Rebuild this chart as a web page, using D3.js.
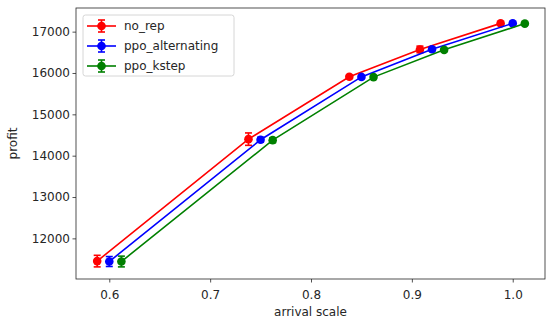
<!DOCTYPE html>
<html>
<head>
<meta charset="utf-8">
<script src="https://cdn.jsdelivr.net/npm/d3@7"></script>
<style>
  body { margin: 0; background: #fff; }
  text { font-family: "DejaVu Sans", sans-serif; fill: #262626; }
</style>
</head>
<body>
<div id="chart"></div>
<script>
/* --- データ --- */
const seriesNames = ["no_rep", "ppo_alternating", "ppo_kstep"];
const seriesColors = ["#ff0000", "#0000ff", "#008000"];

const xNoRep = [0.588, 0.738, 0.838, 0.908, 0.988];
const xAlternating = [0.600, 0.750, 0.850, 0.920, 1.000];
const xKstep = [0.612, 0.762, 0.862, 0.932, 1.012];

const yNoRep = [11450, 14400, 15910, 16570, 17200];
const yAlternating = [11440, 14385, 15905, 16575, 17200];
const yKstep = [11440, 14375, 15900, 16560, 17195];

const errNoRep = [140, 150, 40, 80, 30];
const errAlternating = [120, 60, 40, 40, 30];
const errKstep = [130, 60, 40, 40, 30];

const xTicks = [0.6, 0.7, 0.8, 0.9, 1.0];
const yTicks = [12000, 13000, 14000, 15000, 16000, 17000];

/* --- レイアウト --- */
const width = 550, height = 324;
const margin = {top: 8, right: 5, bottom: 45, left: 76};

const svg = d3.select("#chart").append("svg")
    .attr("width", width)
    .attr("height", height);

const xScale = d3.scaleLinear().domain([0.567, 1.032]).range([margin.left, width - margin.right]);
const yScale = d3.scaleLinear().domain([11017, 17572]).range([height - margin.bottom, margin.top]);

const series = [
    {name: seriesNames[0], color: seriesColors[0], x: xNoRep, y: yNoRep, e: errNoRep},
    {name: seriesNames[1], color: seriesColors[1], x: xAlternating, y: yAlternating, e: errAlternating},
    {name: seriesNames[2], color: seriesColors[2], x: xKstep, y: yKstep, e: errKstep}
];

/* --- 軸 --- */
const xAxis = svg.append("g")
    .attr("transform", "translate(0," + (height - margin.bottom) + ")")
    .call(d3.axisBottom(xScale).tickValues(xTicks).tickFormat(d3.format(".1f")).tickSize(3.5).tickSizeOuter(0));

const yAxis = svg.append("g")
    .attr("transform", "translate(" + margin.left + ",0)")
    .call(d3.axisLeft(yScale).tickValues(yTicks).tickFormat(d3.format("d")).tickSize(3.5).tickSizeOuter(0));

[xAxis, yAxis].forEach(function(ax) {
    ax.select(".domain").remove();
    ax.selectAll(".tick line").attr("stroke", "#262626").attr("stroke-width", 0.8);
    ax.selectAll(".tick text").style("font-size", "12px").style("font-family", "DejaVu Sans").attr("fill", "#262626");
});
xAxis.selectAll(".tick text").attr("dy", "1.1em");
yAxis.selectAll(".tick text").attr("x", -6);

// 枠
svg.append("rect")
    .attr("x", margin.left)
    .attr("y", margin.top)
    .attr("width", width - margin.left - margin.right)
    .attr("height", height - margin.top - margin.bottom)
    .attr("fill", "none")
    .attr("stroke", "#262626")
    .attr("stroke-width", 0.8);

// 軸ラベル
svg.append("text")
    .attr("x", (margin.left + width - margin.right) / 2)
    .attr("y", 316)
    .attr("text-anchor", "middle")
    .style("font-size", "12px")
    .text("arrival scale");

svg.append("text")
    .attr("transform", "translate(17," + ((margin.top + height - margin.bottom) / 2) + ") rotate(-90)")
    .attr("text-anchor", "middle")
    .style("font-size", "12px")
    .text("profit");

/* --- 系列 --- */
const line = d3.line()
    .x(function(d) { return xScale(d[0]); })
    .y(function(d) { return yScale(d[1]); });

series.forEach(function(s) {
    const pts = s.x.map(function(v, i) { return [v, s.y[i], s.e[i]]; });
    const g = svg.append("g");

    g.append("path")
        .datum(pts)
        .attr("d", line)
        .attr("fill", "none")
        .attr("stroke", s.color)
        .attr("stroke-width", 1.6);

    // エラーバー
    const eb = g.selectAll(".err").data(pts).enter().append("g");
    eb.append("line")
        .attr("x1", function(d) { return xScale(d[0]); })
        .attr("x2", function(d) { return xScale(d[0]); })
        .attr("y1", function(d) { return yScale(d[1] - d[2]); })
        .attr("y2", function(d) { return yScale(d[1] + d[2]); })
        .attr("stroke", s.color).attr("stroke-width", 1.6);
    [-1, 1].forEach(function(sign) {
        eb.append("line")
            .attr("x1", function(d) { return xScale(d[0]) - 3.5; })
            .attr("x2", function(d) { return xScale(d[0]) + 3.5; })
            .attr("y1", function(d) { return yScale(d[1] + sign * d[2]); })
            .attr("y2", function(d) { return yScale(d[1] + sign * d[2]); })
            .attr("stroke", s.color).attr("stroke-width", 1.6);
    });

    g.selectAll("circle").data(pts).enter().append("circle")
        .attr("cx", function(d) { return xScale(d[0]); })
        .attr("cy", function(d) { return yScale(d[1]); })
        .attr("r", 4.3)
        .attr("fill", s.color);
});

/* --- 凡例 --- */
const legend = svg.append("g").attr("transform", "translate(83,15)");
legend.append("rect")
    .attr("width", 151).attr("height", 61).attr("rx", 2.5)
    .attr("fill", "#fff").attr("fill-opacity", 0.8)
    .attr("stroke", "#cccccc").attr("stroke-width", 0.8);

series.forEach(function(s, i) {
    const cy = 11 + i * 20;
    const it = legend.append("g");
    it.append("line").attr("x1", 4).attr("x2", 33).attr("y1", cy).attr("y2", cy)
        .attr("stroke", s.color).attr("stroke-width", 1.6);
    it.append("line").attr("x1", 18.5).attr("x2", 18.5).attr("y1", cy - 6).attr("y2", cy + 6)
        .attr("stroke", s.color).attr("stroke-width", 1.6);
    [-6, 6].forEach(function(o) {
        it.append("line").attr("x1", 15).attr("x2", 22).attr("y1", cy + o).attr("y2", cy + o)
            .attr("stroke", s.color).attr("stroke-width", 1.6);
    });
    it.append("circle").attr("cx", 18.5).attr("cy", cy).attr("r", 4.3).attr("fill", s.color);
    it.append("text").attr("x", 41).attr("y", cy).attr("dy", "0.35em")
        .style("font-size", "12px").text(s.name);
});
</script>
</body>
</html>
